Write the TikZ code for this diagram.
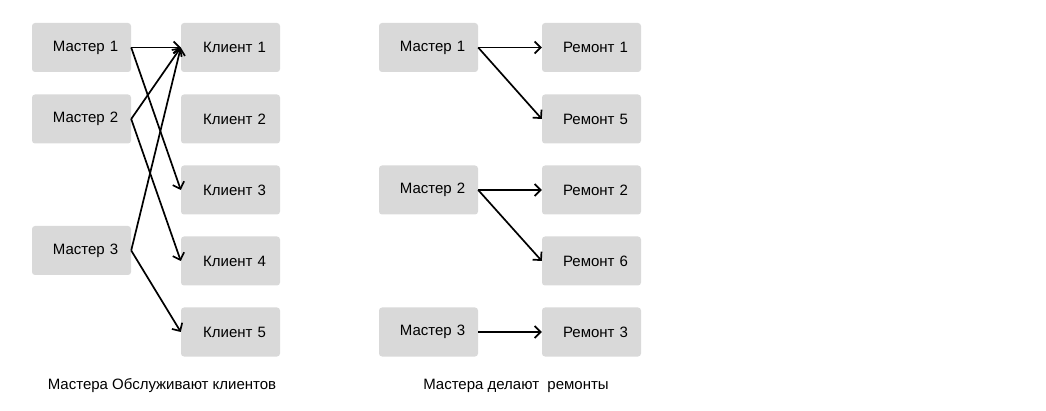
\documentclass[tikz,border=0pt]{standalone}
\usepackage{fontspec}
\setmainfont{Liberation Sans}
\usetikzlibrary{arrows.meta}

\begin{document}
\begin{tikzpicture}[
    x=1pt, y=-1pt,
    every node/.style={font=\fontsize{15pt}{17pt}\selectfont},
    box/.style={rectangle, rounded corners=3pt, fill={rgb,255:red,217;green,217;blue,217},
      minimum width=99pt, minimum height=49pt, inner sep=0pt, text width=93pt, align=center,
      execute at begin node=\hspace*{8pt}},
    link/.style={draw, line width=1.7pt, -{Straight Barb[length=6pt,width=12pt]}}
  ]
  \useasboundingbox (0,0) rectangle (1046,411);

  % masters and clients
  \node[box] (m1) at (81.5,47.5) {Мастер 1};
  \node[box] (m2) at (81.5,119) {Мастер 2};
  \node[box] (m3) at (81.5,250.5) {Мастер 3};
  \node[box] (k1) at (230.5,47.5) {Клиент 1};
  \node[box] (k2) at (230.5,119) {Клиент 2};
  \node[box] (k3) at (230.5,190) {Клиент 3};
  \node[box] (k4) at (230.5,261) {Клиент 4};
  \node[box] (k5) at (230.5,332) {Клиент 5};

  \draw[link] (m1.east) -- (k1.west);
  \draw[link] (m1.east) -- (k3.west);
  \draw[link] (m2.east) -- (k1.west);
  \draw[link] (m2.east) -- (k4.west);
  \draw[link] (m3.east) -- (k1.west);
  \draw[link] (m3.east) -- (k5.west);

  % masters and repairs
  \node[box] (rm1) at (428.5,47.5) {Мастер 1};
  \node[box] (rm2) at (428.5,190) {Мастер 2};
  \node[box] (rm3) at (428.5,332) {Мастер 3};
  \node[box] (r1) at (591.5,47.5) {Ремонт 1};
  \node[box] (r5) at (591.5,119) {Ремонт 5};
  \node[box] (r2) at (591.5,190) {Ремонт 2};
  \node[box] (r6) at (591.5,261) {Ремонт 6};
  \node[box] (r3) at (591.5,332) {Ремонт 3};

  \draw[link] (rm1.east) -- (r1.west);
  \draw[link] (rm1.east) -- (r5.west);
  \draw[link] (rm2.east) -- (r2.west);
  \draw[link] (rm2.east) -- (r6.west);
  \draw[link] (rm3.east) -- (r3.west);

  \node (cap1) at (162,386) {Мастера Обслуживают клиентов};
  \node (cap2) at (516,386) {Мастера делают\ \ ремонты};
\end{tikzpicture}
\end{document}
